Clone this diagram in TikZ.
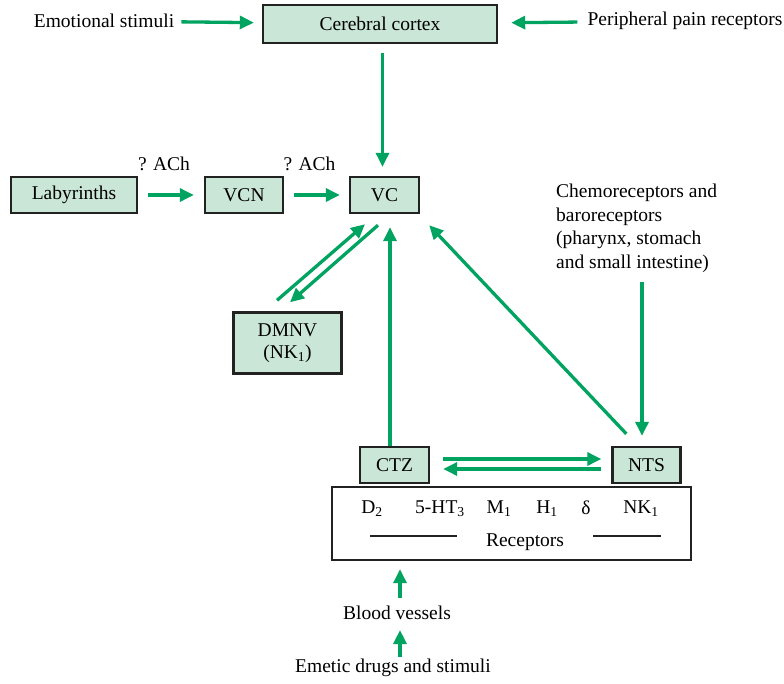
\documentclass[tikz,border=0pt]{standalone}
\usepackage{fontspec}
\setmainfont{Liberation Serif}
\usetikzlibrary{arrows.meta, calc}
\definecolor{boxgreen}{HTML}{C9E6D6}
\definecolor{arrgreen}{HTML}{00A35F}
\definecolor{edgegray}{HTML}{222222}
\tikzset{
    box/.style={
        rectangle, draw=edgegray, line width=2.4pt, fill=boxgreen,
        align=center, inner sep=0pt, font=\fontsize{19.5}{22}\selectfont
    },
    plain/.style={
        inner sep=0pt, align=center, font=\fontsize{19.5}{23.5}\selectfont
    },
    arrow/.style={-{Triangle[length=14pt,width=13pt]}, line width=3.3pt, draw=arrgreen},
    rule/.style={line width=1.6pt, draw=edgegray}
}

\begin{document}
\begin{tikzpicture}[x=1pt, y=-1pt]
\useasboundingbox (0,0) rectangle (784,683);

% === TOP ROW ===
\node (cortex)    [box, minimum width=234pt, minimum height=38pt] at (380,24) {Cerebral cortex};
\node (emotional) [plain] at (104,21) {Emotional stimuli};
\node (pain)      [plain] at (685,21) {Peripheral pain receptors};

% === VOMITING CENTRE ROW ===
\node (lab) [box, minimum width=126pt, minimum height=36pt] at (74,195)    {Labyrinths};
\node (vcn) [box, minimum width=78pt,  minimum height=36pt] at (244,195)   {VCN};
\node (vc)  [box, minimum width=69pt,  minimum height=36pt] at (384.5,195) {VC};
\node (dmnv) [box, minimum width=108pt, minimum height=61pt] at (287.5,343) {DMNV\\(NK\textsubscript{1})};

\node (chemo) [plain, align=left, anchor=north west] at (556,184) {Chemoreceptors and\\baroreceptors\\(pharynx, stomach\\and small intestine)};

% === CTZ / NTS AND RECEPTORS ===
\node (ctz)  [box, minimum width=69pt, minimum height=36pt] at (394.5,465) {CTZ};
\node (nts)  [box, minimum width=68pt, minimum height=36pt] at (646.5,465) {NTS};
\node (rbox) [box, fill=white, minimum width=359pt, minimum height=73pt] at (511.5,523.5) {};

\node (d2)    [plain] at (372,509) {D\textsubscript{2}};
\node (ht3)   [plain] at (440,509) {5-HT\textsubscript{3}};
\node (m1)    [plain] at (499,509) {M\textsubscript{1}};
\node (h1)    [plain] at (547,509) {H\textsubscript{1}};
\node (delta) [plain] at (586,508) {δ};
\node (nk1)   [plain] at (641,509) {NK\textsubscript{1}};
\node (rlabel) [plain] at (525,542) {Receptors};
\coordinate (ruleA1) at (370,536);
\coordinate (ruleA2) at (457,536);
\coordinate (ruleB1) at (593,536);
\coordinate (ruleB2) at (661,536);

% === BLOOD ROUTE ===
\node (blood)  [plain] at (397,613) {Blood vessels};
\node (emetic) [plain] at (393,668) {Emetic drugs and stimuli};

% === ARROWS ===
\draw [arrow, shorten <=7pt, shorten >=8pt] (emotional) -- (cortex);
\draw [arrow, shorten <=10pt, shorten >=13pt] (pain) -- (cortex);
\draw [arrow, shorten <=9pt, shorten >=9pt] ([xshift=-2pt]vc.north |- cortex.south) -- ([xshift=-2pt]vc.north);

\draw [arrow, shorten <=10pt, shorten >=10pt] (lab) -- node[plain, above=23pt, xshift=-7pt]{? ACh} (vcn);
\draw [arrow, shorten <=10pt, shorten >=9pt] (vcn) -- node[plain, above=23pt, xshift=-7pt]{? ACh} (vc);

\draw [arrow] ($(dmnv.north)+(-10.5,-11)$) -- ($(vc.south)+(-19.5,10)$);
\draw [arrow] ($(vc.south)+(-6.5,11)$) -- ($(dmnv.north)+(2.5,-9)$);

\draw [arrow, shorten >=13pt] ([xshift=-4.5pt]ctz.north) -- ([xshift=-4.5pt]ctz.north |- vc.south);
\draw [arrow] ($(nts.north west)+(15,-12)$) -- ($(vc.south east)+(9,11)$);
\draw [arrow, shorten <=9pt, shorten >=10pt] ([xshift=-4.5pt]nts.north |- chemo.south) -- ([xshift=-4.5pt]nts.north);

\draw [arrow, shorten <=13pt, shorten >=10pt] ([yshift=6pt]ctz.east) -- ([yshift=6pt]nts.west);
\draw [arrow, shorten <=10pt, shorten >=13pt] ([yshift=-4pt]nts.west) -- ([yshift=-4pt]ctz.east);

\draw [rule] (ruleA1) -- (ruleA2);
\draw [rule] (ruleB1) -- (ruleB2);

\draw [arrow, shorten <=8pt, shorten >=8pt] ([xshift=3pt]blood.north) -- ([xshift=3pt]blood.north |- rbox.south);
\draw [arrow, shorten <=2pt, shorten >=10pt] ([xshift=7pt]emetic.north) -- ([xshift=7pt]emetic.north |- blood.south);

\end{tikzpicture}
\end{document}
